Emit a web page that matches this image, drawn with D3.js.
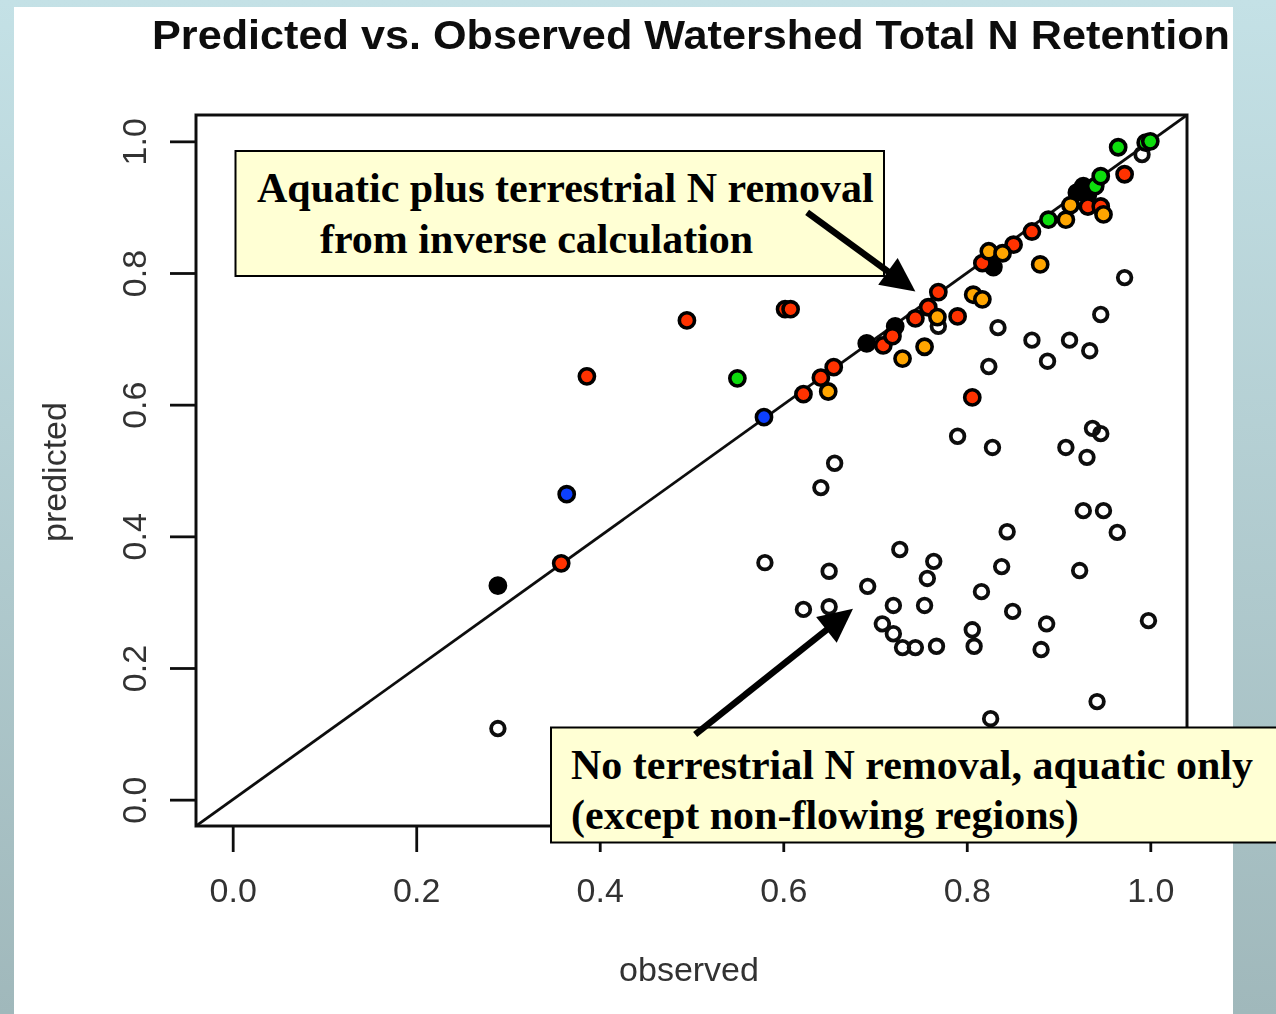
<!DOCTYPE html>
<html><head><meta charset="utf-8">
<script src="https://cdn.jsdelivr.net/npm/d3@7"></script>
<style>html,body{margin:0;padding:0;overflow:hidden;background:#fff}</style>
</head><body>
<svg id="chart" width="1276" height="1014"></svg>
<script>
// ---------- data ----------
const titleText = "Predicted vs. Observed Watershed Total N Retention";
const xLabel = "observed";
const yLabel = "predicted";
const xTicks = [0.0, 0.2, 0.4, 0.6, 0.8, 1.0];
const yTicks = [0.0, 0.2, 0.4, 0.6, 0.8, 1.0];

// open circles: [observed, predicted]
const openPoints = [
  [0.289,0.108],[0.580,0.360],[0.622,0.289],[0.650,0.347],[0.650,0.293],[0.692,0.324],
  [0.727,0.380],[0.708,0.267],[0.720,0.295],[0.720,0.252],[0.730,0.231],[0.744,0.231],
  [0.767,0.233],[0.754,0.295],[0.757,0.336],[0.764,0.362],[0.806,0.258],[0.808,0.233],
  [0.816,0.316],[0.838,0.354],[0.844,0.407],[0.850,0.286],[0.881,0.228],[0.887,0.267],
  [0.826,0.123],[0.942,0.149],[0.998,0.272],[0.923,0.348],[0.927,0.439],[0.949,0.439],
  [0.964,0.406],[0.641,0.474],[0.656,0.511],[0.790,0.552],[0.828,0.535],[0.908,0.535],
  [0.931,0.520],[0.937,0.564],[0.946,0.556],[0.824,0.658],[0.834,0.717],[0.871,0.698],
  [0.888,0.666],[0.912,0.698],[0.934,0.682],[0.946,0.737],[0.972,0.793],[0.769,0.719],
  [0.991,0.980]
];
const blackPoints = [
  [0.289,0.325],[0.691,0.693],[0.722,0.719],[0.829,0.809],[0.927,0.932],[0.920,0.922],[0.932,0.919]
];
const redPoints = [
  [0.358,0.359],[0.386,0.643],[0.495,0.728],[0.602,0.745],[0.608,0.745],[0.622,0.616],
  [0.641,0.641],[0.655,0.657],[0.709,0.690],[0.719,0.704],[0.744,0.731],[0.758,0.748],
  [0.769,0.771],[0.790,0.734],[0.806,0.611],[0.817,0.815],[0.851,0.843],[0.871,0.863],
  [0.932,0.901],[0.946,0.901],[0.972,0.950]
];
const orangePoints = [
  [0.649,0.620],[0.730,0.670],[0.754,0.688],[0.768,0.733],[0.807,0.767],[0.817,0.760],
  [0.824,0.833],[0.839,0.830],[0.880,0.813],[0.908,0.881],[0.913,0.903],[0.949,0.889]
];
const greenPoints = [
  [0.550,0.640],[0.889,0.881],[0.940,0.932],[0.946,0.947],[0.965,0.991],[0.995,0.998],[1.000,1.000]
];
const bluePoints = [
  [0.364,0.464],[0.579,0.581]
];

const note1Lines = ["Aquatic plus terrestrial N removal", "from inverse calculation"];
const note2Lines = ["No terrestrial N removal, aquatic only", "(except non-flowing regions)"];
// arrows in data units: [fromObs, fromPred, toObs, toPred]
const arrow1 = [0.626, 0.892, 0.744, 0.772];
const arrow2 = [0.504, 0.099, 0.676, 0.290];

// ---------- layout ----------
const W = 1276, H = 1014;
const plot = {left:196, top:115, right:1187, bottom:826};
const svg = d3.select("#chart");

const defs = svg.append("defs");
const grad = defs.append("linearGradient").attr("id","bg").attr("x1",0).attr("y1",0).attr("x2",0).attr("y2",1);
grad.append("stop").attr("offset","0%").attr("stop-color","#c4e1e6");
grad.append("stop").attr("offset","100%").attr("stop-color","#a0b8bb");
defs.append("clipPath").attr("id","clipPlot").append("rect")
  .attr("x",plot.left).attr("y",plot.top).attr("width",plot.right-plot.left).attr("height",plot.bottom-plot.top);
defs.append("filter").attr("id","soft").attr("x","-5%").attr("y","-5%").attr("width","110%").attr("height","110%")
  .append("feGaussianBlur").attr("stdDeviation",0.6);

svg.append("rect").attr("width",W).attr("height",H).attr("fill","url(#bg)");
svg.append("rect").attr("x",14).attr("y",7).attr("width",1233-14).attr("height",H-7).attr("fill","#fff");

const x = d3.scaleLinear().domain([-0.04,1.04]).range([plot.left, plot.right]);
const y = d3.scaleLinear().domain([-0.04,1.04]).range([plot.bottom, plot.top]);

const rplot = svg.append("g").attr("filter","url(#soft)");

// title
rplot.append("text").attr("x",691).attr("y",49).attr("text-anchor","middle")
  .attr("font-family","'Liberation Sans', Arial, sans-serif").attr("font-weight","bold")
  .attr("font-size",41).attr("fill","#111")
  .attr("textLength",1078).attr("lengthAdjust","spacingAndGlyphs")
  .text(titleText);

// axes
const fmt = d3.format(".1f");
const gx = rplot.append("g").attr("transform",`translate(0,${plot.bottom})`)
  .call(d3.axisBottom(x).tickValues(xTicks).tickFormat(fmt).tickSize(26));
gx.select(".domain").remove();
gx.selectAll(".tick line").attr("stroke","#111").attr("stroke-width",2.8);
gx.selectAll(".tick text").attr("y",64).attr("dy","0.36em")
  .attr("font-family","'Liberation Sans', Arial, sans-serif").attr("font-size",34).attr("fill","#333");

const gy = rplot.append("g").attr("transform",`translate(${plot.left},0)`)
  .call(d3.axisLeft(y).tickValues(yTicks).tickFormat(fmt).tickSize(26));
gy.select(".domain").remove();
gy.selectAll(".tick line").attr("stroke","#111").attr("stroke-width",2.8);
gy.selectAll(".tick text").attr("x",0).attr("y",0).attr("dy","0.36em")
  .attr("transform","translate(-62,0) rotate(-90)").attr("text-anchor","middle")
  .attr("font-family","'Liberation Sans', Arial, sans-serif").attr("font-size",34).attr("fill","#333");

// axis labels
rplot.append("text").attr("x",689).attr("y",981).attr("text-anchor","middle")
  .attr("font-family","'Liberation Sans', Arial, sans-serif").attr("font-size",34).attr("fill","#333")
  .text(xLabel);
rplot.append("text").attr("transform","translate(66,472) rotate(-90)").attr("text-anchor","middle")
  .attr("font-family","'Liberation Sans', Arial, sans-serif").attr("font-size",34).attr("fill","#333")
  .text(yLabel);

// plot box
rplot.append("rect").attr("x",plot.left).attr("y",plot.top)
  .attr("width",plot.right-plot.left).attr("height",plot.bottom-plot.top)
  .attr("fill","none").attr("stroke","#111").attr("stroke-width",3);

// 1:1 line
rplot.append("line").attr("clip-path","url(#clipPlot)")
  .attr("x1",x(-0.04)).attr("y1",y(-0.04)).attr("x2",x(1.04)).attr("y2",y(1.04))
  .attr("stroke","#111").attr("stroke-width",2.8);

// points
const pts = rplot.append("g");
pts.selectAll("circle.open").data(openPoints).join("circle").attr("class","open")
  .attr("cx",d=>x(d[0])).attr("cy",d=>y(d[1])).attr("r",6.8)
  .attr("fill","none").attr("stroke","#111").attr("stroke-width",3.8);
const groups = [
  [blackPoints,"#000000"],[redPoints,"#ff3300"],[orangePoints,"#ffa500"],
  [greenPoints,"#11dd11"],[bluePoints,"#1040ff"]
];
groups.forEach(([data,col])=>{
  pts.append("g").selectAll("circle").data(data).join("circle")
    .attr("cx",d=>x(d[0])).attr("cy",d=>y(d[1])).attr("r",7.6)
    .attr("fill",col).attr("stroke","#000").attr("stroke-width",3.6);
});

// annotation boxes
function note(bx,by,bw,bh,lines,xs,baselines){
  svg.append("rect").attr("x",bx).attr("y",by).attr("width",bw).attr("height",bh)
    .attr("fill","#ffffd4").attr("stroke","#000").attr("stroke-width",2);
  lines.forEach((t,i)=>{
    svg.append("text").attr("x",xs[i]).attr("y",baselines[i]).attr("text-anchor","start")
      .attr("font-family","'Liberation Serif','Times New Roman',serif").attr("font-weight","bold")
      .attr("font-size",42).attr("fill","#000").text(t);
  });
}
note(235.5,151,648.5,125,note1Lines,[257,320],[202,253]);
note(551,727.5,740,115,note2Lines,[571,571],[779,829]);

// arrows
function arrow(a){
  const x1=x(a[0]), y1=y(a[1]), x2=x(a[2]), y2=y(a[3]);
  const ang=Math.atan2(y2-y1,x2-x1), L=34, hw=16.5;
  const bx=x2-L*Math.cos(ang), by=y2-L*Math.sin(ang);
  svg.append("line").attr("x1",x1).attr("y1",y1).attr("x2",bx+2*Math.cos(ang)).attr("y2",by+2*Math.sin(ang))
    .attr("stroke","#000").attr("stroke-width",6.5);
  const p=[[x2,y2],[bx-hw*Math.sin(ang),by+hw*Math.cos(ang)],[bx+hw*Math.sin(ang),by-hw*Math.cos(ang)]];
  svg.append("path").attr("d",d3.line()(p)+"Z").attr("fill","#000");
}
arrow(arrow1);
arrow(arrow2);
</script>
</body></html>
